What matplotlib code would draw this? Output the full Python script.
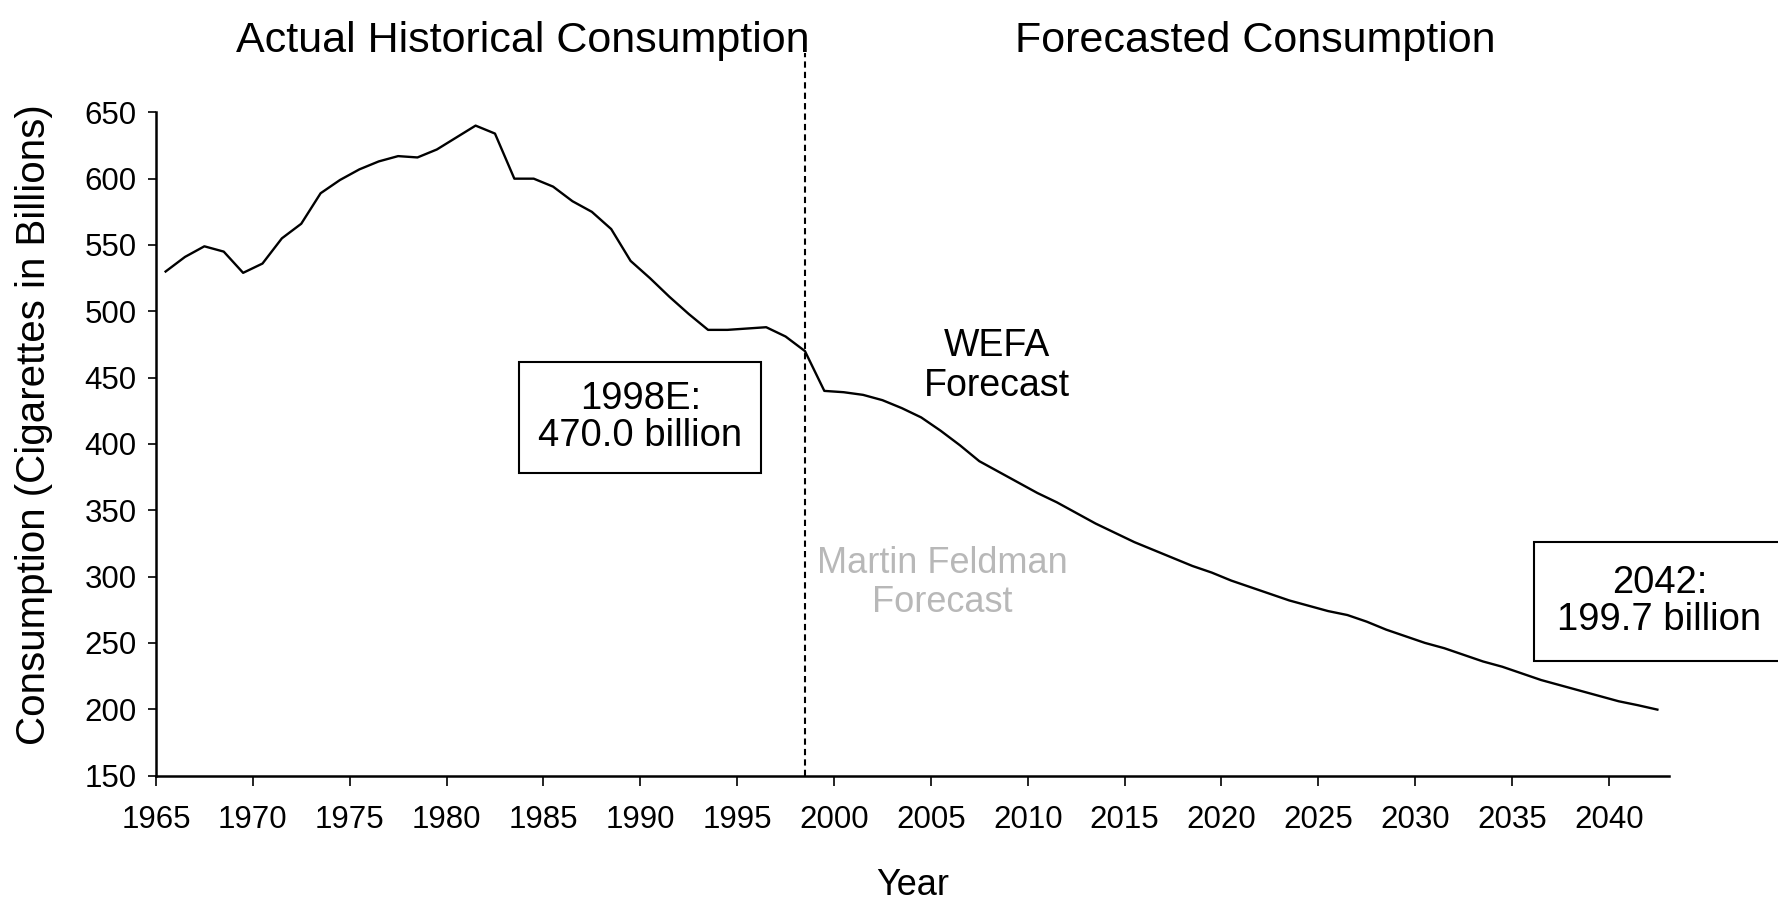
import numpy as np
import matplotlib
matplotlib.use('Agg')
import matplotlib.pyplot as plt

plt.rcParams['font.family'] = ['Liberation Sans', 'DejaVu Sans']

# US cigarette consumption, billions of cigarettes
hist_years = list(range(1965, 1999))
hist_values = [530, 541, 549, 545, 529, 536, 555, 566, 589, 599,
               607, 613, 617, 616, 622, 631, 640, 634, 600, 600,
               594, 583, 575, 562, 538, 525, 511, 498, 486, 486,
               487, 488, 481, 470]

fcst_years = list(range(1999, 2043))
fcst_values = [440, 439, 437, 433, 427, 420, 410, 399, 387, 379,
               371, 363, 356, 348, 340, 333, 326, 320, 314, 308,
               303, 297, 292, 287, 282, 278, 274, 271, 266, 260,
               255, 250, 246, 241, 236, 232, 227, 222, 218, 214,
               210, 206, 203, 199.7]

tick_years = list(range(1965, 2045, 5))
y_ticks = list(range(150, 700, 50))
split_year = 1998

years = np.array(hist_years + fcst_years)
values = np.array(hist_values + fcst_values)

fig = plt.figure(figsize=(17.78, 9.06), dpi=100)
ax = fig.add_axes([0.0877, 0.144, 0.851, 0.732])

# each year's value sits in the middle of its year slot
ax.plot(years + 0.5, values, color='black', lw=1.7)

ax.set_xlim(1965, 2043.1)
ax.set_ylim(150, 650)
ax.set_xticks(tick_years)
ax.set_yticks(y_ticks)
ax.tick_params(axis='both', direction='out', length=6, width=1.2, labelsize=22.5, pad=8)
ax.tick_params(axis='x', length=7, pad=14)

for side in ['top', 'right']:
    ax.spines[side].set_visible(False)
for side in ['left', 'bottom']:
    ax.spines[side].set_linewidth(1.8)

# divider between history and forecast
split_val = values[years == split_year][0]
ax.vlines(split_year + 0.5, 150, 695, colors='black', linestyles=(0, (3, 2)), lw=1.5, clip_on=False)

ax.set_xlabel('Year', fontsize=26, labelpad=24)
fig.text(0.019, 0.531, 'Consumption (Cigarettes in Billions)', rotation=90, fontsize=29,
         ha='center', va='center')

fig.text(0.294, 0.955, 'Actual Historical Consumption', fontsize=31, ha='center', va='center')
fig.text(0.706, 0.955, 'Forecasted Consumption', fontsize=31, ha='center', va='center')

box = dict(boxstyle='square,pad=0.5', facecolor='white', edgecolor='black', lw=1.5)
ax.text(1990, 420, '1998E:\n%.1f billion' % split_val, fontsize=27.5, ha='center', va='center',
        linespacing=1.05, bbox=box)
ax.text(2042.6, 281, '2042:\n%.1f billion' % fcst_values[-1], fontsize=27.5, ha='center', va='center',
        linespacing=1.05, bbox=dict(box, boxstyle='square,pad=0.6'), clip_on=False)

ax.text(2008.4, 459, 'WEFA\nForecast', fontsize=27, ha='center', va='center', linespacing=1.15)
ax.text(2005.6, 295, 'Martin Feldman\nForecast', fontsize=26, ha='center', va='center',
        linespacing=1.15, color='#b8b8b8')

fig.savefig('out.png', dpi=100)
